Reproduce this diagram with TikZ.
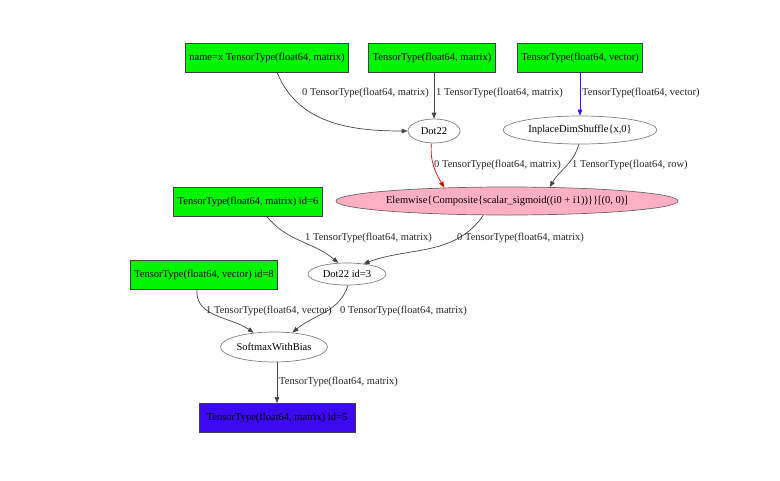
\documentclass[tikz,border=0pt]{standalone}
\usepackage{fontspec}
\setmainfont{Liberation Serif}
\usetikzlibrary{arrows.meta,shapes.geometric}
\definecolor{graphgreen}{RGB}{0, 245, 0}
\definecolor{graphpink}{RGB}{255, 175, 195}
\definecolor{graphblue}{RGB}{60, 10, 240}
\definecolor{graphline}{RGB}{70, 70, 70}

\begin{document}
\begin{tikzpicture}[x=1pt, y=-1pt,
  font=\fontsize{10.5}{12}\selectfont,
  tensorbox/.style={draw=black!75, line width=0.6pt, fill=graphgreen, inner xsep=4pt, minimum height=29pt},
  opnode/.style={draw=black!50, line width=0.7pt, ellipse, inner sep=0pt, minimum height=24pt},
  elabel/.style={anchor=west, inner sep=0pt, text=black!85},
  flow/.style={draw=graphline, line width=0.7pt, -{Triangle[length=6pt, width=4.5pt]}}]
\useasboundingbox (0,0) rectangle (780,480);

% inputs
\node[tensorbox] (inx) at (267,57.5) {name=x TensorType(float64, matrix)};
\node[tensorbox] (inw) at (432,57.5) {TensorType(float64, matrix)};
\node[tensorbox] (inb) at (580,57.5) {TensorType(float64, vector)};
\node[tensorbox] (inw2) at (248,202) {TensorType(float64, matrix) id=6};
\node[tensorbox] (inb2) at (204,274.5) {TensorType(float64, vector) id=8};

% ops
\node[opnode, minimum width=52pt] (dot) at (434,131) {Dot22};
\node[opnode, minimum width=154pt, minimum height=28pt] (shuffle) at (580,130) {InplaceDimShuffle\{x,0\}};
\node[opnode, minimum width=335pt, minimum height=28pt, fill=graphpink, draw=black!60] (elem) at (507,201) {Elemwise\{Composite\{scalar\_sigmoid((i0 + i1))\}\}[(0, 0)]};
\node[opnode, minimum width=78pt, minimum height=22pt] (dotb) at (347,274) {Dot22 id=3};
\node[opnode, minimum width=107pt, minimum height=30pt] (soft) at (274,347) {SoftmaxWithBias};

% output
\node[tensorbox, fill=graphblue, minimum width=156pt] (out) at (277,418) {TensorType(float64, matrix) id=5};

% edges
\draw[flow] ([xshift=10pt]inx.south) to[out=-68, in=180] (dot.west);
\draw[flow] (inw.south -| dot.north) -- (dot.north);
\draw[flow, draw=graphblue] (inb.south) -- (shuffle.north);
\draw[flow, draw=red!85!black] (dot.258) to[out=-95, in=120] (elem.168);
\draw[flow] (shuffle.265) to[out=-105, in=60] (elem.18);
\draw[flow] ([xshift=19pt]inw2.south) to[out=-50, in=140] (dotb.128);
\draw[flow] (elem.211) to[out=-125, in=20] (dotb.32);
\draw[flow] ([xshift=-7pt]inb2.south) to[out=-95, in=145] (soft.145);
\draw[flow] (dotb.275) to[out=-108, in=40] (soft.38);
\draw[flow] (soft.south -| out.north) -- (out.north);

% edge labels
\node[elabel] (lx) at (302,93) {0 TensorType(float64, matrix)};
\node[elabel] (lw) at (436,93) {1 TensorType(float64, matrix)};
\node[elabel] (lb) at (582,93) {TensorType(float64, vector)};
\node[elabel] (ldot) at (434,165) {0 TensorType(float64, matrix)};
\node[elabel] (lshuf) at (572,165) {1 TensorType(float64, row)};
\node[elabel] (lw2) at (305,238) {1 TensorType(float64, matrix)};
\node[elabel] (lelem) at (457,238) {0 TensorType(float64, matrix)};
\node[elabel] (lb2) at (206,311) {1 TensorType(float64, vector)};
\node[elabel] (ldotb) at (340,311) {0 TensorType(float64, matrix)};
\node[elabel] (lsoft) at (279,382) {TensorType(float64, matrix)};
\end{tikzpicture}
\end{document}
